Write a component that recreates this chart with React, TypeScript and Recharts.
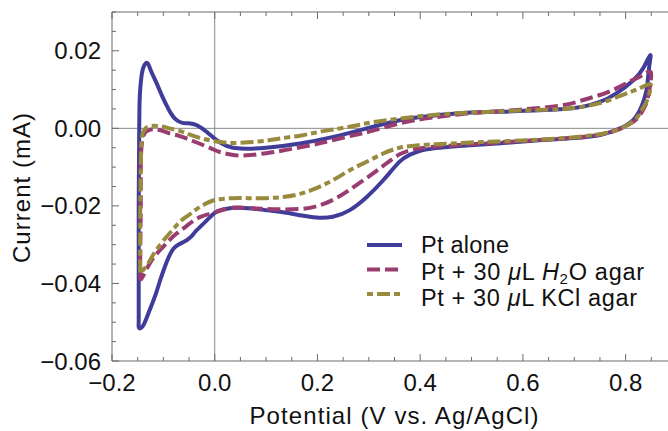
import { LineChart, Line, XAxis, YAxis, ReferenceLine, Legend } from 'recharts'

// potential (V vs. Ag/AgCl), current (mA)
const ptAlone: [number, number][] = [
  [-0.148, -0.05], [-0.148, -0.04], [-0.148, -0.02], [-0.147, 0.0], [-0.146, 0.008], [-0.143, 0.013],
  [-0.138, 0.016], [-0.131, 0.0168], [-0.124, 0.0148], [-0.113, 0.0116], [-0.103, 0.0085], [-0.094, 0.006],
  [-0.085, 0.0038], [-0.075, 0.0022], [-0.063, 0.0014], [-0.052, 0.0013], [-0.042, 0.0011], [-0.032, 0.0006],
  [-0.016, -0.0009], [0.003, -0.003], [0.023, -0.0045], [0.05, -0.0052], [0.1, -0.005], [0.166, -0.0039],
  [0.231, -0.0022], [0.296, 0.0], [0.36, 0.0021], [0.42, 0.0032], [0.49, 0.004], [0.56, 0.0043],
  [0.62, 0.0046], [0.68, 0.005], [0.717, 0.0056], [0.75, 0.0068], [0.782, 0.009], [0.815, 0.0124],
  [0.835, 0.0157], [0.848, 0.0189],
  [0.846, 0.016], [0.842, 0.011], [0.836, 0.0075], [0.827, 0.0045], [0.815, 0.0022], [0.8, 0.0007],
  [0.789, 0.0], [0.77, -0.001], [0.75, -0.0017], [0.7, -0.0025], [0.62, -0.0032], [0.55, -0.0039],
  [0.47, -0.0046], [0.43, -0.0051], [0.4, -0.0058], [0.38, -0.0068], [0.36, -0.0086], [0.328, -0.0134],
  [0.296, -0.0177], [0.263, -0.0211], [0.23, -0.0228], [0.198, -0.023], [0.166, -0.0224], [0.13, -0.0216],
  [0.1, -0.0211], [0.065, -0.0206], [0.036, -0.0205], [0.015, -0.021], [0.0, -0.0218], [-0.016, -0.0238],
  [-0.036, -0.0264], [-0.045, -0.0278], [-0.055, -0.0289], [-0.062, -0.0294], [-0.071, -0.03], [-0.08, -0.031],
  [-0.087, -0.0325], [-0.093, -0.0343], [-0.1, -0.0368], [-0.107, -0.0395], [-0.115, -0.0428], [-0.127, -0.047],
  [-0.135, -0.0497], [-0.14, -0.051], [-0.145, -0.0516], [-0.148, -0.0512], [-0.148, -0.05],
]

const ptH2OAgar: [number, number][] = [
  [-0.145, -0.0392], [-0.145, -0.03], [-0.144, -0.02], [-0.144, -0.01], [-0.142, -0.004], [-0.138, -0.0016],
  [-0.132, -0.0007], [-0.124, -0.0003], [-0.115, -0.0003], [-0.1, -0.0007], [-0.088, -0.0013], [-0.07, -0.0019],
  [-0.055, -0.0026], [-0.04, -0.0034], [-0.023, -0.0043], [-0.005, -0.0053], [0.01, -0.0061], [0.025, -0.0066],
  [0.045, -0.007], [0.07, -0.0069], [0.1, -0.0064], [0.13, -0.0058], [0.166, -0.0049], [0.2, -0.004],
  [0.231, -0.003], [0.27, -0.0018], [0.308, -0.0006], [0.36, 0.0013], [0.42, 0.0027], [0.49, 0.0038],
  [0.56, 0.0045], [0.62, 0.0051], [0.68, 0.006], [0.717, 0.0073], [0.75, 0.0086], [0.782, 0.0103],
  [0.81, 0.0122], [0.83, 0.0135], [0.848, 0.0146],
  [0.849, 0.0125], [0.847, 0.0105], [0.843, 0.0078], [0.837, 0.0055], [0.827, 0.0033], [0.815, 0.0017],
  [0.8, 0.0005], [0.782, -0.0005], [0.75, -0.0016], [0.7, -0.0024], [0.62, -0.0031], [0.55, -0.0037],
  [0.49, -0.0042], [0.43, -0.0047], [0.393, -0.0053], [0.36, -0.0067], [0.328, -0.0097], [0.296, -0.0128],
  [0.263, -0.0158], [0.231, -0.0184], [0.198, -0.0201], [0.166, -0.0208], [0.13, -0.0209], [0.1, -0.0208],
  [0.065, -0.0205], [0.036, -0.0205], [0.015, -0.021], [-0.003, -0.0218], [-0.029, -0.0229], [-0.055, -0.0252],
  [-0.075, -0.0272], [-0.088, -0.0288], [-0.1, -0.0305], [-0.114, -0.0325], [-0.125, -0.0345], [-0.133, -0.0364],
  [-0.14, -0.0382], [-0.145, -0.0392],
]

const ptKClAgar: [number, number][] = [
  [-0.145, -0.0372], [-0.145, -0.03], [-0.145, -0.02], [-0.144, -0.01], [-0.143, -0.004], [-0.14, -0.0012],
  [-0.134, 0.0001], [-0.125, 0.0006], [-0.112, 0.0006], [-0.1, 0.0004], [-0.088, 0.0], [-0.07, -0.0006],
  [-0.055, -0.0013], [-0.04, -0.002], [-0.023, -0.0027], [-0.005, -0.0032], [0.015, -0.0036], [0.036, -0.0038],
  [0.065, -0.0036], [0.1, -0.0032], [0.127, -0.0026], [0.166, -0.0019], [0.2, -0.001], [0.231, -0.0003],
  [0.27, 0.0006], [0.308, 0.0016], [0.36, 0.0025], [0.42, 0.0034], [0.49, 0.004], [0.56, 0.0044],
  [0.62, 0.0047], [0.68, 0.005], [0.717, 0.0056], [0.75, 0.0065], [0.782, 0.008], [0.81, 0.0094],
  [0.83, 0.0105], [0.848, 0.0114],
  [0.848, 0.01], [0.846, 0.0088], [0.842, 0.0073], [0.837, 0.006], [0.829, 0.0042], [0.821, 0.0026],
  [0.808, 0.0012], [0.795, 0.0002], [0.775, -0.0008], [0.75, -0.0015], [0.7, -0.0023], [0.62, -0.003],
  [0.55, -0.0034], [0.49, -0.0037], [0.43, -0.0041], [0.393, -0.0044], [0.36, -0.005], [0.328, -0.0065],
  [0.296, -0.0086], [0.263, -0.0108], [0.231, -0.0133], [0.198, -0.0154], [0.166, -0.0169], [0.133, -0.0177],
  [0.1, -0.018], [0.065, -0.018], [0.036, -0.018], [0.015, -0.0182], [-0.003, -0.0186], [-0.02, -0.0196],
  [-0.036, -0.0209], [-0.052, -0.0225], [-0.068, -0.0241], [-0.08, -0.0259], [-0.094, -0.028], [-0.114, -0.0314],
  [-0.122, -0.0331], [-0.13, -0.0349], [-0.137, -0.0362], [-0.143, -0.037], [-0.145, -0.0372],
]

const potentialTicks = [
  -0.2, -0.15, -0.1, -0.05, 0, 0.05, 0.1, 0.15, 0.2, 0.25, 0.3, 0.35, 0.4, 0.45, 0.5, 0.55, 0.6, 0.65, 0.7, 0.75,
  0.8, 0.85, 0.9,
]
const potentialLabels = [-0.2, 0, 0.2, 0.4, 0.6, 0.8]
const currentTicks = [
  -0.06, -0.055, -0.05, -0.045, -0.04, -0.035, -0.03, -0.025, -0.02, -0.015, -0.01, -0.005, 0, 0.005, 0.01, 0.015,
  0.02, 0.025, 0.03,
]
const currentLabels = [-0.06, -0.04, -0.02, 0, 0.02]

const FONT = '"Liberation Sans", Arial, Helvetica, sans-serif'
const FRAME = '#6b6b6b'
const PLOT_TOP = 12
const PLOT_BOTTOM = 361
const PLOT_LEFT = 112

const series = [
  { key: 'alone', data: ptAlone, color: '#3f3d99', dash: undefined, offset: 0 },
  { key: 'h2o', data: ptH2OAgar, color: '#993d71', dash: '13 5', offset: 0 },
  { key: 'kcl', data: ptKClAgar, color: '#998b3d', dash: '13 4 6 4', offset: 17 },
]

const toRows = (pts: [number, number][]) => pts.map(([v, i]) => ({ v, i }))
const isIn = (list: number[], value: number) => list.some((m) => Math.abs(m - value) < 1e-9)
const minus = (s: string) => s.replace('-', '\u2212')

function PotentialTick(props: any) {
  const { x, payload } = props
  const value = payload.value as number
  const major = isIn(potentialLabels, value)
  const len = major ? 7 : 4
  return (
    <g>
      <line x1={x} x2={x} y1={PLOT_BOTTOM} y2={PLOT_BOTTOM - len} stroke={FRAME} />
      <line x1={x} x2={x} y1={PLOT_TOP} y2={PLOT_TOP + len} stroke={FRAME} />
      {major && (
        <text x={x} y={390.5} textAnchor="middle" fontFamily={FONT} fontSize={24} fill="#111">
          {minus(value.toFixed(1))}
        </text>
      )}
    </g>
  )
}

function CurrentTick(props: any) {
  const { y, payload } = props
  const value = payload.value as number
  const major = isIn(currentLabels, value)
  const len = major ? 7 : 4
  return (
    <g>
      <line x1={PLOT_LEFT} x2={PLOT_LEFT + len} y1={y} y2={y} stroke={FRAME} />
      {major && (
        <text x={101} y={y + 8.5} textAnchor="end" fontFamily={FONT} fontSize={24} fill="#111">
          {minus(value.toFixed(2))}
        </text>
      )}
    </g>
  )
}

function LegendBox() {
  const rows = [
    <tspan>Pt alone</tspan>,
    <>
      <tspan>Pt + 30 </tspan>
      <tspan fontStyle="italic">μ</tspan>
      <tspan>L </tspan>
      <tspan fontStyle="italic">H</tspan>
      <tspan dy={4} fontSize={15}>2</tspan>
      <tspan dy={-4}>O agar</tspan>
    </>,
    <>
      <tspan>Pt + 30 </tspan>
      <tspan fontStyle="italic">μ</tspan>
      <tspan>L KCl agar</tspan>
    </>,
  ]
  const widths = [88, 223, 216]
  return (
    <svg width={320} height={95}>
      {series.map((s, idx) => (
        <g key={s.key}>
          <line
            x1={12}
            x2={47}
            y1={17 + idx * 24.5}
            y2={17 + idx * 24.5}
            stroke={s.color}
            strokeWidth={4}
            strokeDasharray={s.dash}
            strokeDashoffset={s.offset}
          />
          <text
            x={66}
            y={25 + idx * 26.5}
            textLength={widths[idx]}
            lengthAdjust="spacing"
            fontFamily={FONT}
            fontSize={23.5}
            fill="#111"
          >
            {rows[idx]}
          </text>
        </g>
      ))}
    </svg>
  )
}

export default function App() {
  return (
    <div
      style={{ position: 'fixed', left: 0, top: 0, width: 668, height: 431, overflow: 'hidden', background: '#fff' }}
    >
      <LineChart width={700} height={431} margin={{ top: 12, right: 23, left: 52, bottom: 40 }}>
        <XAxis
          dataKey="v"
          type="number"
          domain={[-0.2, 0.9]}
          ticks={potentialTicks}
          interval={0}
          allowDataOverflow
          tickLine={false}
          stroke={FRAME}
          tick={PotentialTick}
          label={() => (
            <text
              x={394}
              y={424}
              textAnchor="middle"
              textLength={289}
              lengthAdjust="spacing"
              fontFamily={FONT}
              fontSize={24}
              fill="#111"
            >
              Potential (V vs. Ag/AgCl)
            </text>
          )}
        />
        <YAxis
          dataKey="i"
          type="number"
          domain={[-0.06, 0.03]}
          ticks={currentTicks}
          interval={0}
          allowDataOverflow
          width={60}
          tickLine={false}
          stroke={FRAME}
          tick={CurrentTick}
          label={() => (
            <text
              x={30}
              y={188}
              transform="rotate(-90 30 188)"
              textAnchor="middle"
              textLength={150}
              lengthAdjust="spacing"
              fontFamily={FONT}
              fontSize={24}
              fill="#111"
            >
              Current (mA)
            </text>
          )}
        />
        <ReferenceLine y={0.03} stroke={FRAME} strokeWidth={1} />
        <ReferenceLine x={0} stroke="#8a8a8a" strokeWidth={1} />
        <ReferenceLine y={0} stroke="#8a8a8a" strokeWidth={1} />
        {series.map((s) => (
          <Line
            key={s.key}
            data={toRows(s.data)}
            dataKey="i"
            type="natural"
            stroke={s.color}
            strokeWidth={4}
            strokeDasharray={s.dash}
            dot={false}
            activeDot={false}
            isAnimationActive={false}
          />
        ))}
        <Legend
          layout="vertical"
          align="center"
          verticalAlign="middle"
          wrapperStyle={{ left: 355, top: 228, width: 320, height: 95 }}
          content={() => <LegendBox />}
        />
      </LineChart>
    </div>
  )
}
